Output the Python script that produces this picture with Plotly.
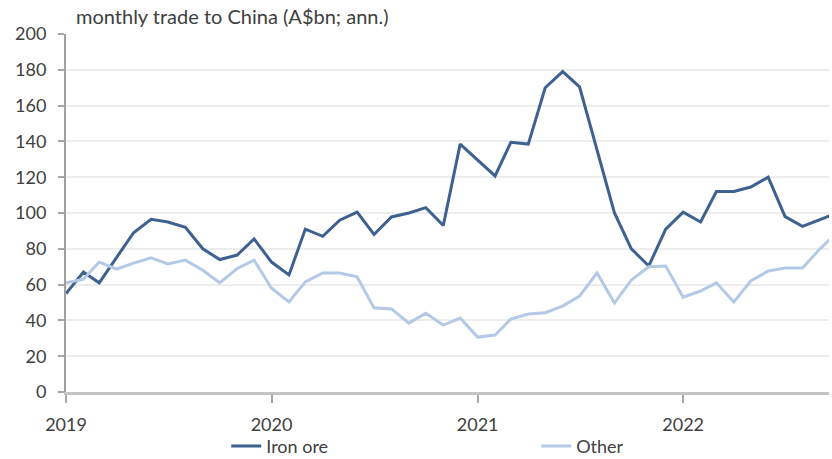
import pandas as pd
import plotly.graph_objects as go

# Monthly observations, Jan 2019 – Oct 2022
months = pd.date_range("2019-01-01", "2022-10-01", freq="MS")

iron_ore = [
    55, 67, 61, 75, 89, 96.5, 95, 92, 80, 74, 76.5, 85.5,          # 2019
    72.6, 65.4, 91, 87, 96, 100.5, 88, 97.8, 100, 103, 93, 138.5,  # 2020
    129.5, 120.7, 139.5, 138.5, 170, 179, 170.5, 136, 100, 80, 70.4, 91,  # 2021
    100.5, 95, 112, 112, 114.5, 120, 98, 92.5, 96.5, 100,          # 2022
]
other = [
    61, 63, 72.6, 68.7, 72, 75, 71.5, 73.7, 68, 61, 69, 73.7,
    58, 50.3, 61.5, 66.5, 66.5, 64.3, 47, 46.4, 38.5, 44, 37.4, 41.3,
    30.7, 31.8, 40.8, 43.6, 44.3, 48, 53.6, 66.5, 49.7, 62.6, 70, 70.4,
    53, 56.4, 61, 50.3, 62, 67.6, 69.3, 69.3, 80, 89,
]

y_ticks = [0, 20, 40, 60, 80, 100, 120, 140, 160, 180, 200]

FONT = "Lato, Calibri, Carlito, sans-serif"
TEXT = "#404040"

fig = go.Figure()
fig.add_trace(go.Scatter(x=months, y=iron_ore, name="Iron ore", mode="lines",
                         line=dict(color="#3E6191", width=3)))
fig.add_trace(go.Scatter(x=months, y=other, name="Other", mode="lines",
                         line=dict(color="#B4C9E6", width=3)))

fig.update_layout(
    width=832, height=459,
    margin=dict(l=66, r=3, t=34, b=67, autoexpand=False),
    paper_bgcolor="white", plot_bgcolor="white",
    font=dict(family=FONT, size=18, color=TEXT),
    showlegend=True,
    legend=dict(orientation="h", x=0.21, y=-0.152, xanchor="left", yanchor="middle",
                entrywidth=265, entrywidthmode="pixels",
                font=dict(family=FONT, size=18, color=TEXT),
                bgcolor="rgba(0,0,0,0)"),
    annotations=[dict(text="monthly trade to China (A$bn; ann.)", xref="paper", yref="paper",
                      x=0.011, y=1.0, xanchor="left", yanchor="bottom", yshift=4,
                      showarrow=False, font=dict(family=FONT, size=20, color=TEXT))],
)

fig.update_xaxes(
    type="date",
    range=["2019-01-01", "2022-09-17"],
    tickmode="linear", tick0="2019-01-01", dtick="M12", tickformat="%Y",
    ticks="outside", ticklen=8, tickwidth=2, tickcolor="#A6A6A6",
    showline=True, linecolor="#C4C4C4", linewidth=3,
    showgrid=False, zeroline=False, ticklabelstandoff=6,
    tickfont=dict(family=FONT, size=18, color=TEXT),
)
fig.update_yaxes(
    range=[0, 200], tickvals=y_ticks,
    ticks="outside", ticklen=6, tickwidth=2, tickcolor="#A6A6A6",
    showline=True, linecolor="#A0A0A0", linewidth=2,
    showgrid=True, gridcolor="#EDEDED", gridwidth=1.5,
    zeroline=False, ticklabelstandoff=8,
    tickfont=dict(family=FONT, size=18, color=TEXT),
)

fig.write_html("out.html")
